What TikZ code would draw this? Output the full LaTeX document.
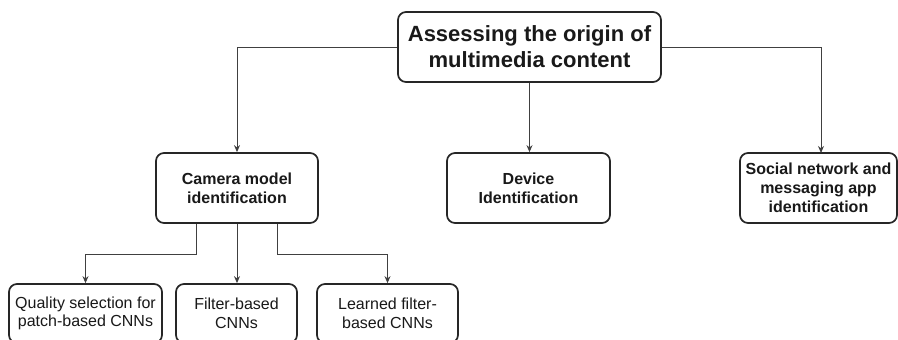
\documentclass[tikz,border=0pt]{standalone}
\usepackage{fontspec}
\setmainfont{Liberation Sans}
\usetikzlibrary{arrows.meta}

\tikzset{
  box/.style={draw=black!85, line width=1.7pt, rounded corners=8pt,
    fill=white, inner sep=0pt, align=center, text=black!90},
  topbox/.style={box, font=\fontsize{22}{26}\selectfont\bfseries},
  midbox/.style={box, font=\fontsize{16}{19}\selectfont\bfseries},
  leafbox/.style={box, font=\fontsize{16}{18.5}\selectfont},
  link/.style={draw=black!75, line width=1pt,
    -{Stealth[length=7pt,width=6pt]}}
}

\begin{document}
\begin{tikzpicture}[x=1pt, y=-1pt]
  \useasboundingbox (0,0) rectangle (898,340);
  \clip (0,0) rectangle (898,340);

  % root
  \node[topbox, minimum width=263pt, minimum height=70pt] (root) at (529.5,47)
    {Assessing the origin of\\multimedia content};

  % second level
  \node[midbox, minimum width=162pt, minimum height=70pt] (cam) at (237,188)
    {Camera model\\identification};
  \node[midbox, minimum width=163pt, minimum height=70pt] (dev) at (528.5,188)
    {Device\\Identification};
  \node[midbox, minimum width=157pt, minimum height=70pt] (soc) at (818.5,188)
    {Social network and\\messaging app\\identification};

  % third level
  \node[leafbox, minimum width=153pt, minimum height=59pt] (qual) at (85.5,313.5)
    {Quality selection for\\patch-based CNNs};
  \node[leafbox, minimum width=121pt, minimum height=59pt] (filt) at (236.5,313.5)
    {Filter-based\\CNNs};
  \node[leafbox, minimum width=141pt, minimum height=59pt] (lrn) at (387.5,313.5)
    {Learned filter-\\based CNNs};

  % bend points of the lower connectors
  \coordinate (bl) at (196,254);
  \coordinate (br) at (277,254);
  \coordinate (sr) at (821,153);

  % connectors
  \draw[link] (root.west) -| (cam.north);
  \draw[link] (root.south) -- (root.south |- dev.north);
  \draw[link] (root.east) -| (sr);

  \draw[link] (bl |- cam.south) -- (bl) -| (qual.north);
  \draw[link] (cam.south) -- (filt.north -| cam.south);
  \draw[link] (br |- cam.south) -- (br) -| (lrn.north);
\end{tikzpicture}
\end{document}
